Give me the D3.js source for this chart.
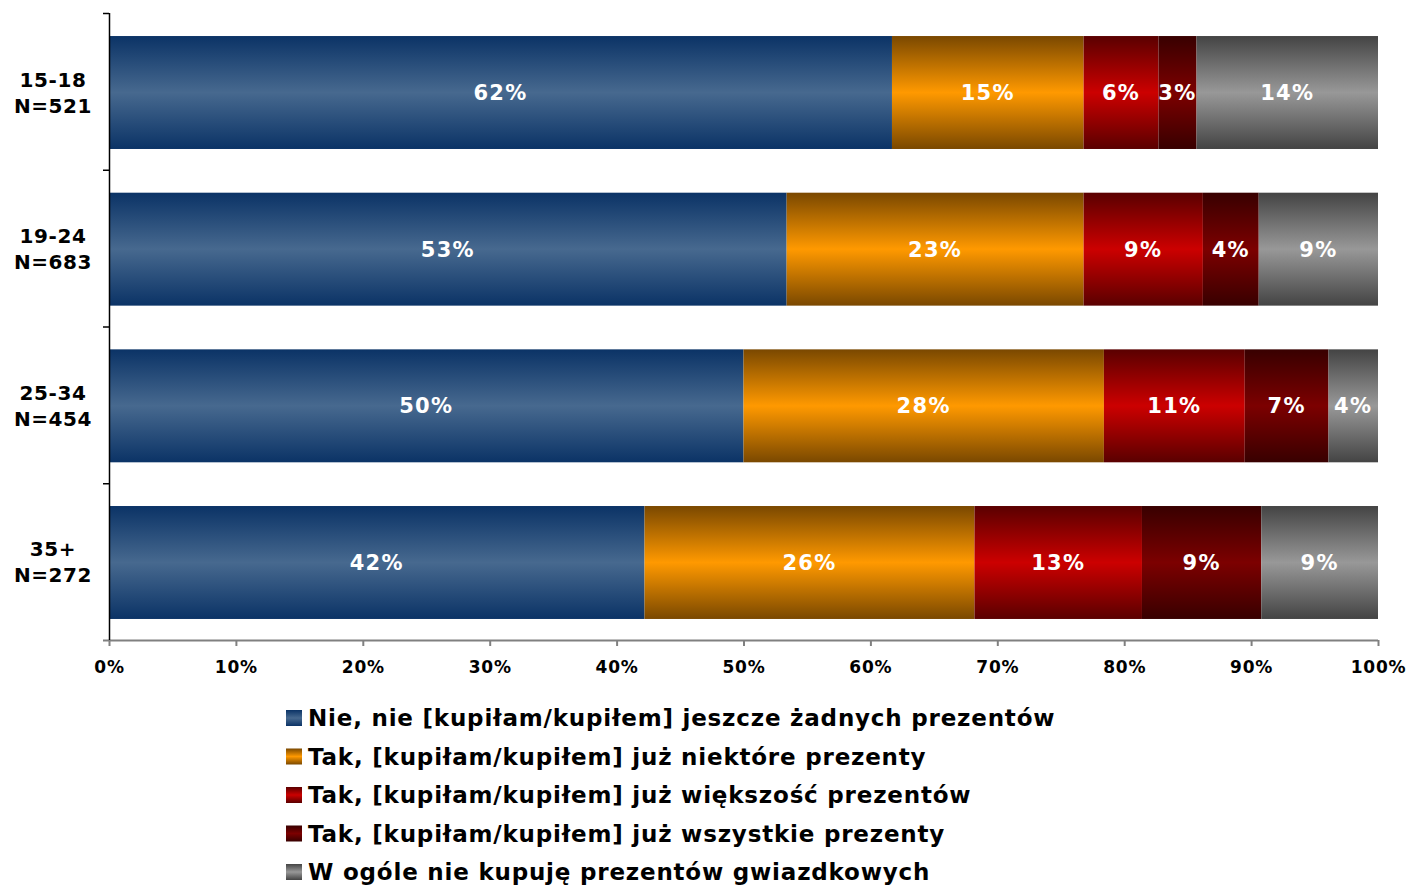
<!DOCTYPE html>
<html>
<head>
<meta charset="utf-8">
<script src="https://cdn.jsdelivr.net/npm/d3@7"></script>
<style>
  body { margin: 0; background: #fff; }
  svg text { font-family: "DejaVu Sans", Verdana, sans-serif; font-weight: bold; }
</style>
</head>
<body>
<div id="main-view-container"></div>
<script>
// Chart data
//

var categories = ["15-18|N=521", "19-24|N=683", "25-34|N=454", "35+|N=272"];
var series_names = [
  "Nie, nie [kupiłam/kupiłem] jeszcze żadnych prezentów",
  "Tak, [kupiłam/kupiłem] już niektóre prezenty",
  "Tak, [kupiłam/kupiłem] już większość prezentów",
  "Tak, [kupiłam/kupiłem] już wszystkie prezenty",
  "W ogóle nie kupuję prezentów gwiazdkowych"
];
// one array per series, one value per category (percent)
var nie_values        = [61.7, 53.4, 50.0, 42.2];
var niektore_values   = [15.1, 23.4, 28.4, 26.0];
var wiekszosc_values  = [5.9, 9.4, 11.1, 13.2];
var wszystkie_values  = [3.0, 4.4, 6.6, 9.4];
var wogole_values     = [14.3, 9.4, 3.9, 9.2];
var x_ticks = [0, 10, 20, 30, 40, 50, 60, 70, 80, 90, 100];

// colours: [edge, middle] for each series gradient
var series_colors = [
  ["#0b3366", "#47698f"],
  ["#7a4800", "#ff9900"],
  ["#5a0000", "#cc0000"],
  ["#380000", "#7c0000"],
  ["#444444", "#989898"]
];

// Build the drawing
//

var width = 1409, height = 887;
var svg = d3.select("#main-view-container").append("svg")
  .attr("width", width)
  .attr("height", height);

var all_values = [nie_values, niektore_values, wiekszosc_values, wszystkie_values, wogole_values];

// rows of {cat, s, x0, x1, value}
var rows = categories.map(function(c, i) {
  var acc = 0;
  return all_values.map(function(vals, s) {
    var seg = { cat: c, s: s, x0: acc, x1: acc + vals[i], value: vals[i] };
    acc += vals[i];
    return seg;
  });
});

var x_scale = d3.scaleLinear().domain([0, 100]).range([109, 1378]);
var y_scale = d3.scaleBand().domain(categories).range([13, 642]).paddingInner(0.279).paddingOuter(0.147);

// gradients
var defs = svg.append("defs");
series_colors.forEach(function(c, s) {
  var g = defs.append("linearGradient")
    .attr("id", "grad" + s)
    .attr("x1", 0).attr("y1", 0).attr("x2", 0).attr("y2", 1);
  g.append("stop").attr("offset", "0%").attr("stop-color", c[0]);
  g.append("stop").attr("offset", "50%").attr("stop-color", c[1]);
  g.append("stop").attr("offset", "100%").attr("stop-color", c[0]);
});

// bars
var row_g = svg.selectAll("g.row")
  .data(rows)
  .enter().append("g")
  .attr("class", "row");

row_g.selectAll("rect")
  .data(function(d) { return d; })
  .enter().append("rect")
  .attr("x", function(d) { return x_scale(d.x0); })
  .attr("y", function(d) { return y_scale(d.cat); })
  .attr("width", function(d) { return x_scale(d.x1) - x_scale(d.x0); })
  .attr("height", y_scale.bandwidth())
  .attr("fill", function(d) { return "url(#grad" + d.s + ")"; });

row_g.selectAll("text")
  .data(function(d) { return d; })
  .enter().append("text")
  .attr("x", function(d) { return x_scale((d.x0 + d.x1) / 2); })
  .attr("y", function(d) { return y_scale(d.cat) + y_scale.bandwidth() / 2; })
  .attr("dy", "0.36em")
  .attr("text-anchor", "middle")
  .attr("fill", "#fff")
  .style("font-size", "21px")
  .style("letter-spacing", "1.3px")
  .text(function(d) { return Math.round(d.value) + "%"; });

// x axis
var x_axis = svg.append("g")
  .attr("transform", "translate(0,640)")
  .call(d3.axisBottom(x_scale).tickValues(x_ticks).tickSize(6).tickSizeOuter(0)
    .tickFormat(function(d) { return d + "%"; }));
x_axis.select(".domain").attr("stroke", "#808080").attr("stroke-width", 2);
x_axis.selectAll(".tick line").attr("stroke", "#808080").attr("stroke-width", 2);
x_axis.selectAll("text")
  .attr("fill", "#000")
  .attr("y", 21)
  .style("font-size", "17px")
  .style("letter-spacing", "0.8px");
x_axis.select(".domain").attr("d", "M103,0.5H1378");

// y axis: line and category separators
var sep_scale = d3.scaleLinear().domain([0, categories.length]).range([13, 640]);
svg.append("line")
  .attr("x1", 109.5).attr("x2", 109.5)
  .attr("y1", sep_scale(0)).attr("y2", sep_scale(categories.length))
  .attr("stroke", "#000").attr("stroke-width", 1.5);
svg.selectAll("line.sep")
  .data(d3.range(categories.length))
  .enter().append("line")
  .attr("class", "sep")
  .attr("x1", 103).attr("x2", 109)
  .attr("y1", function(d) { return sep_scale(d) + 0.5; })
  .attr("y2", function(d) { return sep_scale(d) + 0.5; })
  .attr("stroke", "#000").attr("stroke-width", 1.5);

// category labels (two lines each)
var cat_labels = svg.selectAll("text.cat")
  .data(categories)
  .enter().append("text")
  .attr("class", "cat")
  .attr("x", 53)
  .attr("text-anchor", "middle")
  .attr("fill", "#000")
  .style("font-size", "20px")
  .style("letter-spacing", "0.6px");
cat_labels.each(function(d) {
  var parts = d.split("|");
  var cy = y_scale(d) + y_scale.bandwidth() / 2;
  var t = d3.select(this);
  t.append("tspan").attr("x", 53).attr("y", cy - 6).text(parts[0]);
  t.append("tspan").attr("x", 53).attr("y", cy + 20).text(parts[1]);
});

// legend
var legend = svg.selectAll("g.legend")
  .data(series_names)
  .enter().append("g")
  .attr("class", "legend")
  .attr("transform", function(d, i) { return "translate(286," + (710 + i * 38.5) + ")"; });
legend.append("rect")
  .attr("width", 16).attr("height", 16)
  .attr("fill", function(d, i) { return "url(#grad" + i + ")"; });
legend.append("text")
  .attr("x", 22).attr("y", 8)
  .attr("dy", "0.36em")
  .attr("fill", "#000")
  .style("font-size", "23px")
  .style("letter-spacing", "0.8px")
  .text(function(d) { return d; });
</script>
</body>
</html>
